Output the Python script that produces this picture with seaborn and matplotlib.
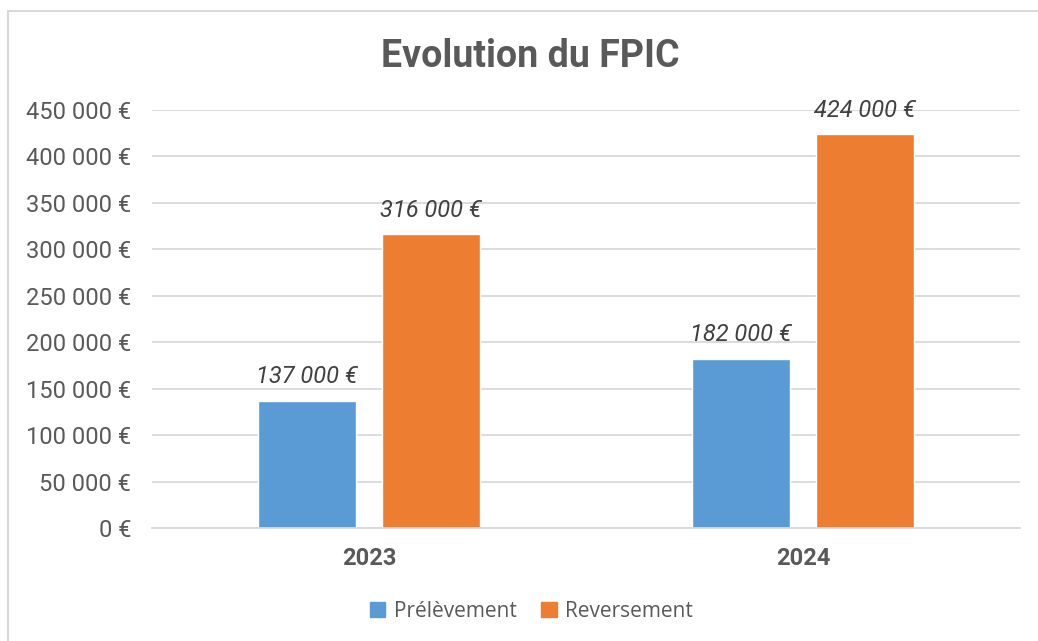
import pandas as pd
import seaborn as sns
import matplotlib.pyplot as plt
from matplotlib.patches import Rectangle

# données
annees = ["2023", "2024"]
series = ["Prélèvement", "Reversement"]
prelevement = [137000, 182000]
reversement = [316000, 424000]
couleurs = ["#5B9BD5", "#ED7D31"]
yticks = list(range(0, 450001, 50000))


def euro(v):
    return f"{v:,.0f}".replace(",", " ") + " €"


data = pd.DataFrame({
    "annee": annees * 2,
    "serie": [series[0]] * 2 + [series[1]] * 2,
    "valeur": prelevement + reversement,
})

sns.set_style("white")
plt.rcParams['font.family'] = ['Roboto', 'DejaVu Sans']

fig = plt.figure(figsize=(10.38, 6.41), dpi=100)
ax = fig.add_axes([0.1464, 0.1763, 0.8363, 0.6521])

sns.barplot(data=data, x="annee", y="valeur", hue="serie", order=annees,
            hue_order=series, palette=couleurs, width=0.569, gap=0.206,
            saturation=1, ax=ax, legend=False)

ax.set_ylim(0, 450000)
ax.set_xlim(-0.5, 1.5)
ax.set_yticks(yticks)
ax.set_yticklabels([euro(v) for v in yticks])
ax.grid(axis="y", color="#D9D9D9", linewidth=1.3)
ax.set_axisbelow(True)
for s in ["top", "right", "left"]:
    ax.spines[s].set_visible(False)
ax.spines["bottom"].set_color("#D9D9D9")
ax.spines["bottom"].set_linewidth(1.3)
ax.tick_params(axis="both", length=0)
ax.tick_params(axis="y", labelsize=17, labelcolor="#595959", pad=15)
ax.tick_params(axis="x", labelsize=17, labelcolor="#595959", pad=14)
for lbl in ax.get_xticklabels():
    lbl.set_fontweight("bold")
ax.set_xlabel("")
ax.set_ylabel("")

# étiquettes de valeurs
for cont in ax.containers:
    for bar in cont:
        h = bar.get_height()
        ax.annotate(euro(h), (bar.get_x() + bar.get_width() / 2, h),
                    xytext=(0, 9), textcoords="offset points",
                    ha="center", va="bottom", fontsize=17,
                    style="italic", color="#404040")

fig.text(0.511, 0.912, "Evolution du FPIC", ha="center", va="center",
         fontsize=27, fontweight="bold", color="#595959")

handles = [Rectangle((0, 0), 1, 1, color=c) for c in couleurs]
fig.legend(handles, series, loc="center", bbox_to_anchor=(0.512, 0.046),
           ncol=2, frameon=False, handlelength=0.75, handleheight=0.75,
           handletextpad=0.4, columnspacing=1.2,
           prop={"family": ["Open Sans", "DejaVu Sans"], "size": 15},
           labelcolor="#595959")

# cadre du graphique
fig.patches.append(Rectangle((8 / 1038, -0.05), 1.2, 0.05 + 630 / 641,
                             transform=fig.transFigure, fill=False,
                             edgecolor="#D9D9D9", linewidth=1.5))

fig.savefig("out.png", dpi=100, facecolor="white")
